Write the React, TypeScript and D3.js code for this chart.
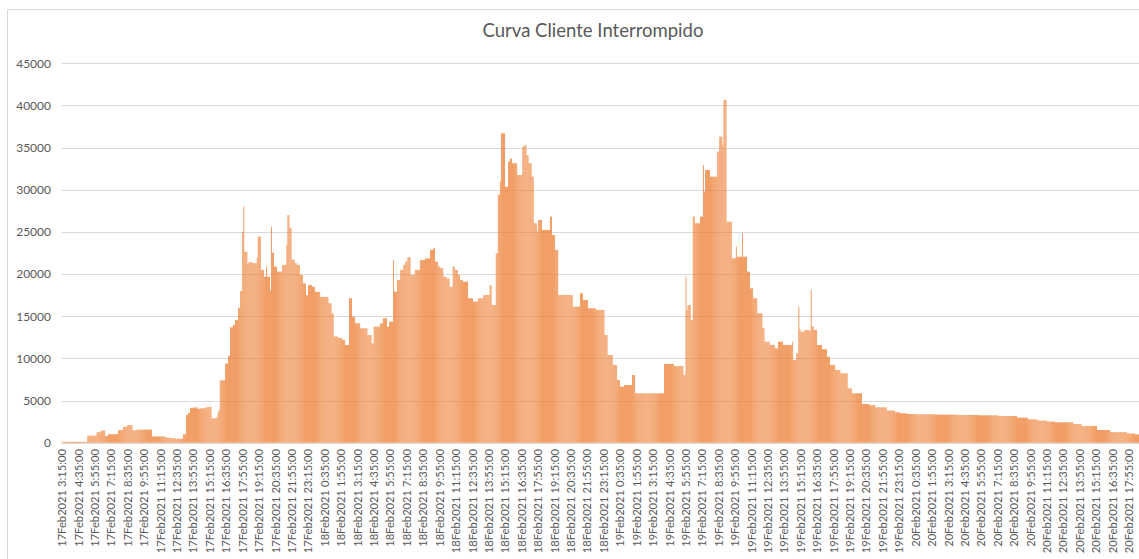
import React from "react";
import * as d3 from "d3";

const title = "Curva Cliente Interrompido";

// [clientes, number of consecutive 5-minute samples]
const runs: [number, number][] = [
  [120, 25], [850, 9], [1250, 4], [1450, 4], [800, 3], [1020, 10], [1500, 5], [1900, 4], [2100, 5],
  [1480, 4], [1560, 15], [750, 13], [620, 5], [550, 5], [480, 7], [1000, 3], [3300, 2], [3550, 2],
  [4150, 4], [4200, 3], [4050, 4], [4100, 4], [4200, 3], [4250, 3],
  [2900, 5], [3100, 1], [3600, 1], [3900, 1], [7400, 5], [9400, 3], [10300, 2], [13700, 3], [14000, 2],
  [14550, 3], [16000, 2], [18000, 2], [25000, 1], [28000, 1], [22650, 3], [21200, 1],
  [21400, 4], [21300, 4], [21900, 1], [24450, 3], [20500, 3], [19700, 2], [20900, 1], [19700, 3],
  [18100, 1], [25600, 1], [22500, 1], [22600, 1], [20900, 3], [20300, 5], [21100, 4], [23450, 1],
  [27000, 2], [25500, 2], [21700, 3], [21300, 2], [21100, 3], [19900, 3], [18900, 3], [17500, 2],
  [18700, 4], [18500, 3], [17900, 5], [17300, 8], [16550, 3], [15350, 2], [12600, 4], [12450, 4],
  [12200, 3], [11600, 4], [17150, 3], [14950, 3], [14170, 5], [13580, 7], [12780, 4], [11800, 2],
  [13770, 6], [14170, 3], [14770, 4], [13770, 2], [14360, 4], [21680, 1], [17920, 3], [19300, 3],
  [20500, 3], [21100, 2], [21500, 2], [22000, 3], [19900, 4], [20500, 5], [21680, 5], [21870, 5],
  [22870, 3], [23060, 2], [21480, 3], [20900, 2], [20700, 3], [19700, 3], [19500, 3], [18500, 3],
  [20900, 2], [20500, 3], [19900, 2], [19300, 3], [19100, 5], [17140, 5], [16750, 5], [17140, 5],
  [17530, 6], [18700, 2], [16340, 4], [22470, 2], [29400, 2], [31000, 1], [36700, 4], [30370, 3],
  [33340, 2], [33700, 2], [33150, 5], [31760, 5], [35120, 2], [35300, 2], [34100, 2], [33150, 3],
  [31560, 2], [26030, 3], [25040, 1], [26420, 4], [25240, 8], [26820, 2], [24650, 3], [22870, 3],
  [17530, 14], [16140, 7], [17730, 3], [16930, 5], [15950, 8], [15750, 8], [12780, 3], [10410, 5],
  [9230, 4], [7450, 3], [6650, 4], [6850, 8], [8040, 3], [5870, 28], [9350, 10], [9100, 9], [8040, 2],
  [19700, 1], [15750, 1], [16340, 3], [14560, 2], [26820, 2], [26030, 5], [26820, 3], [32950, 1],
  [29780, 1], [32350, 5], [31560, 7], [34530, 2], [36300, 3], [35300, 1], [40650, 3], [26220, 5],
  [21880, 4], [23260, 1], [22070, 5], [24850, 1], [22070, 4], [20290, 3], [18320, 3], [17140, 4],
  [15360, 5], [13580, 2], [11990, 5], [11600, 5], [11200, 3], [11990, 5], [11600, 9], [11990, 1],
  [9820, 3], [10610, 2], [16140, 1], [13500, 1], [13180, 4], [13380, 5], [13200, 1], [18120, 1],
  [13800, 2], [13380, 3], [11600, 5], [11100, 5], [10210, 3], [9230, 5], [8640, 5], [8240, 7],
  [6460, 4], [5870, 10], [4600, 7], [4470, 6], [4210, 11], [3820, 8], [3620, 5], [3500, 7], [3420, 8],
  [3380, 20], [3340, 21], [3300, 20], [3260, 20], [3180, 18], [2980, 11], [2780, 9], [2640, 9],
  [2520, 8], [2430, 18], [2220, 8], [1990, 15], [1520, 13], [1260, 16], [1100, 8], [1000, 5],
];

// one label every 16 samples (80 minutes)
const tickLabels = [
  "17Feb2021 3:15:00", "17Feb2021 4:35:00", "17Feb2021 5:55:00", "17Feb2021 7:15:00",
  "17Feb2021 8:35:00", "17Feb2021 9:55:00", "17Feb2021 11:15:00", "17Feb2021 12:35:00",
  "17Feb2021 13:55:00", "17Feb2021 15:15:00", "17Feb2021 16:35:00", "17Feb2021 17:55:00",
  "17Feb2021 19:15:00", "17Feb2021 20:35:00", "17Feb2021 21:55:00", "17Feb2021 23:15:00",
  "18Feb2021 0:35:00", "18Feb2021 1:55:00", "18Feb2021 3:15:00", "18Feb2021 4:35:00",
  "18Feb2021 5:55:00", "18Feb2021 7:15:00", "18Feb2021 8:35:00", "18Feb2021 9:55:00",
  "18Feb2021 11:15:00", "18Feb2021 12:35:00", "18Feb2021 13:55:00", "18Feb2021 15:15:00",
  "18Feb2021 16:35:00", "18Feb2021 17:55:00", "18Feb2021 19:15:00", "18Feb2021 20:35:00",
  "18Feb2021 21:55:00", "18Feb2021 23:15:00",
  "19Feb2021 0:35:00", "19Feb2021 1:55:00", "19Feb2021 3:15:00", "19Feb2021 4:35:00",
  "19Feb2021 5:55:00", "19Feb2021 7:15:00", "19Feb2021 8:35:00", "19Feb2021 9:55:00",
  "19Feb2021 11:15:00", "19Feb2021 12:35:00", "19Feb2021 13:55:00", "19Feb2021 15:15:00",
  "19Feb2021 16:35:00", "19Feb2021 17:55:00", "19Feb2021 19:15:00", "19Feb2021 20:35:00",
  "19Feb2021 21:55:00", "19Feb2021 23:15:00",
  "20Feb2021 0:35:00", "20Feb2021 1:55:00", "20Feb2021 3:15:00", "20Feb2021 4:35:00",
  "20Feb2021 5:55:00", "20Feb2021 7:15:00", "20Feb2021 8:35:00", "20Feb2021 9:55:00",
  "20Feb2021 11:15:00", "20Feb2021 12:35:00", "20Feb2021 13:55:00", "20Feb2021 15:15:00",
  "20Feb2021 16:35:00", "20Feb2021 17:55:00",
];
const tickStep = 16;
const yTicks = [0, 5000, 10000, 15000, 20000, 25000, 30000, 35000, 40000, 45000];

const values: number[] = runs.flatMap(([v, n]) => Array(n).fill(v));

const W = 1139;
const H = 559;
const left = 61.7;
const right = 1140;
const top = 63.3;
const bottom = 442.8;
const font = "Lato, 'Open Sans', sans-serif";
const textColor = "#595959";
const gridColor = "#d9d9d9";

export default function App() {
  const x = d3.scaleBand<number>().domain(d3.range(values.length)).range([left, right]).padding(0);
  const y = d3.scaleLinear().domain([0, 45000]).range([bottom, top]);
  const bw = x.bandwidth();
  const barW = bw * 0.72;

  return (
    <div style={{ position: "absolute", left: 0, top: 0 }}>
      <svg width={W} height={H} style={{ display: "block", background: "#fff" }}>
        <rect x={7.5} y={9.5} width={W + 10} height={H + 10} fill="#fff" stroke={gridColor} />
        <text x={593} y={37} textAnchor="middle" fontFamily={font} fontSize={18.5} fill={textColor}>
          {title}
        </text>
        {yTicks.map((t) => (
          <g key={t}>
            <line x1={left} x2={W} y1={Math.round(y(t)) + 0.5} y2={Math.round(y(t)) + 0.5} stroke={gridColor} strokeWidth={1} />
            <text x={51} y={y(t)} dy="0.35em" textAnchor="end" fontFamily={font} fontSize={12} fill={textColor}>
              {t}
            </text>
          </g>
        ))}
        {values.map((v, i) => (
          <rect key={i} x={(x(i) as number) + (bw - barW) / 2} width={barW} y={y(v)} height={bottom - y(v)} fill="#ED7D31" />
        ))}
        {tickLabels.map((lab, k) => {
          const cx = (x(k * tickStep) as number) + bw / 2;
          return (
            <text key={lab} transform={`translate(${cx},449) rotate(-90)`} dy="0.35em" textAnchor="end" fontFamily={font} fontSize={11.2} fill={textColor}>
              {lab}
            </text>
          );
        })}
      </svg>
    </div>
  );
}
